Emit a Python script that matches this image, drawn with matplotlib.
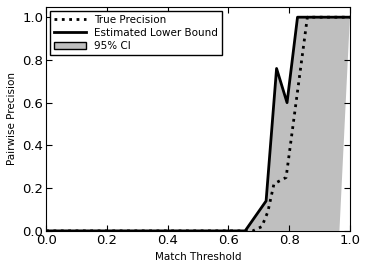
import numpy as np
import matplotlib
matplotlib.use("Agg")
import matplotlib.pyplot as plt
from matplotlib.patches import Patch
from matplotlib.lines import Line2D

# threshold grid used for the estimate and CI (30 points 0..1)
thresholds = np.linspace(0, 1, 30)
est_lower = [0.0] * 20 + [0.07, 0.14, 0.76, 0.60, 1.0, 1.0, 1.0, 1.0, 1.0, 1.0]
ci_low = [0.0] * 29 + [1.0]

# true precision
true_x = [0.0, 0.68, 0.71, 0.73, 0.75, 0.79, 0.86, 1.0]
true_y = [0.0, 0.0, 0.02, 0.09, 0.22, 0.25, 1.0, 1.0]

fig = plt.figure(figsize=(3.66, 2.71), dpi=100)
ax = fig.add_axes([0.126, 0.148, 0.830, 0.828])

ax.fill_between(thresholds, ci_low, est_lower, facecolor='#bfbfbf', edgecolor='none', linewidth=0)
ax.plot(true_x, true_y, ':', color='black', linewidth=2)
ax.plot(thresholds, est_lower, '-', color='black', linewidth=2)

ax.set_xlim(0, 1.0)
ax.set_ylim(0, 1.05)
ax.set_xticks(np.arange(0, 1.01, 0.2))
ax.set_yticks(np.arange(0, 1.01, 0.2))
ax.set_xticklabels(['%.1f' % v for v in np.arange(0, 1.01, 0.2)])
ax.set_yticklabels(['%.1f' % v for v in np.arange(0, 1.01, 0.2)])
ax.tick_params(direction='in', top=True, right=True, labelsize=9.5, length=4, pad=2)
ax.set_xlabel('Match Threshold', fontsize=7.5)
ax.set_ylabel('Pairwise Precision', fontsize=7.5)

handles = [Line2D([], [], color='black', linestyle=':', linewidth=2),
           Line2D([], [], color='black', linestyle='-', linewidth=2),
           Patch(facecolor='#bfbfbf', edgecolor='black', linewidth=1)]
leg = ax.legend(handles, ['True Precision', 'Estimated Lower Bound', '95% CI'],
                loc='upper left', fontsize=7.5, fancybox=False, framealpha=1,
                borderaxespad=0.4, handlelength=3, labelspacing=0.3,
                borderpad=0.4, handletextpad=0.8)
leg.get_frame().set_edgecolor('black')

fig.savefig('out.png', dpi=100)
